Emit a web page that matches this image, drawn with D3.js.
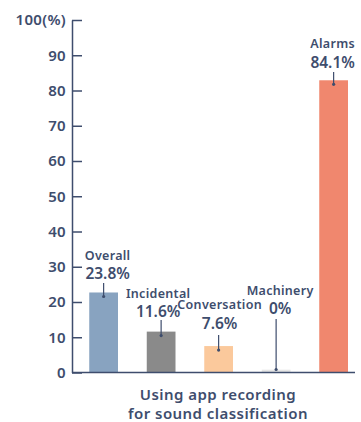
<!DOCTYPE html>
<html><head><meta charset="utf-8">
<script src="https://cdn.jsdelivr.net/npm/d3@7"></script>
<style>
html,body{margin:0;padding:0;background:#fff;}
svg{display:block;font-family:"Noto Sans",sans-serif;}
</style></head>
<body><svg id="chart" width="361" height="422"></svg>
<script>
const categories = ["Overall","Incidental","Conversation","Machinery","Alarms"];
const values = [22.7, 11.6, 7.5, 0.8, 82.9];
const valueLabels = ["23.8%","11.6%","7.6%","0%","84.1%"];
const yTicks = [0,10,20,30,40,50,60,70,80,90,100];
const yTickLabels = ["0","10","20","30","40","50","60","70","80","90","100(%)"];
const xTitle = ["Using app recording","for sound classification"];
const colors = ["#88a3c0","#8a8a8a","#fbc99c","#e6e6e6","#f0876e"];

const navy = "#3e4d6d";
const font = "'Noto Sans', sans-serif";
const svg = d3.select("#chart");
const x0 = 72, y0 = 372.5, yTop = 20;
const y = d3.scaleLinear().domain([0,100]).range([y0,yTop]);
const x = d3.scaleBand().domain(categories).range([72, 72 + 57.5*5.1]).paddingInner(0.5).paddingOuter(0.3);

// bars
svg.append("g").selectAll("rect").data(categories).join("rect")
  .attr("x", d => x(d)).attr("width", x.bandwidth())
  .attr("y", (d,i) => y(values[i])).attr("height", (d,i) => y0 - y(values[i]))
  .attr("fill", (d,i) => colors[i]);

// y axis
const yAxis = d3.axisLeft(y).tickValues(yTicks).tickFormat((d,i) => yTickLabels[i])
  .tickSizeInner(-10).tickSizeOuter(0).tickPadding(6);
const gy = svg.append("g").attr("transform", `translate(${x0},0)`).call(yAxis);
gy.select(".domain").attr("stroke", navy).attr("stroke-width", 1.5);
gy.selectAll(".tick line").attr("stroke", navy).attr("stroke-width", 1.5);
gy.selectAll(".tick text").attr("fill", navy).attr("font-size", 15).attr("font-weight", 600)
  .attr("letter-spacing", 0.3).attr("font-family", font);

// baseline
svg.append("line").attr("x1", x0).attr("x2", 355).attr("y1", y0).attr("y2", y0)
  .attr("stroke", navy).attr("stroke-width", 1.5);

// annotations
const labelOffsets = [
  {name: 255, val: 273, lineTop: 283, dx: 4},
  {name: 293, val: 311, lineTop: 320, dx: -3},
  {name: 304, val: 323, lineTop: 335, dx: 1},
  {name: 290, val: 308, lineTop: 319, dx: 4},
  {name: 43, val: 62, lineTop: 72, dx: -1}
];
const ann = svg.append("g");
categories.forEach((c,i) => {
  const cx = x(c) + x.bandwidth()/2;
  const o = labelOffsets[i];
  const tip = Math.min(y(values[i]) + 4, y0 - 3);
  ann.append("line").attr("x1", cx).attr("x2", cx).attr("y1", o.lineTop).attr("y2", tip)
    .attr("stroke", navy).attr("stroke-width", 1.2);
  ann.append("circle").attr("cx", cx).attr("cy", tip).attr("r", 1.6).attr("fill", navy);
  ann.append("text").attr("x", cx + o.dx).attr("y", o.name).attr("text-anchor","middle")
    .attr("dominant-baseline","central").attr("fill", navy).attr("font-size", 12.5).attr("font-weight", 600)
    .attr("letter-spacing", 0.3).attr("font-family", font).text(c);
  ann.append("text").attr("x", cx + o.dx).attr("y", o.val).attr("text-anchor","middle")
    .attr("dominant-baseline","central").attr("fill", navy).attr("font-size", 15.5).attr("font-weight", 600)
    .attr("font-family", font).text(valueLabels[i]);
});

// x title
svg.append("g").selectAll("text").data(xTitle).join("text")
  .attr("x", 218).attr("y", (d,i) => 394 + i*19).attr("text-anchor","middle")
  .attr("dominant-baseline","central").attr("fill", navy).attr("font-size", 15).attr("font-weight", 600)
  .attr("letter-spacing", 0.45).attr("font-family", font).text(d => d);
</script></body></html>
